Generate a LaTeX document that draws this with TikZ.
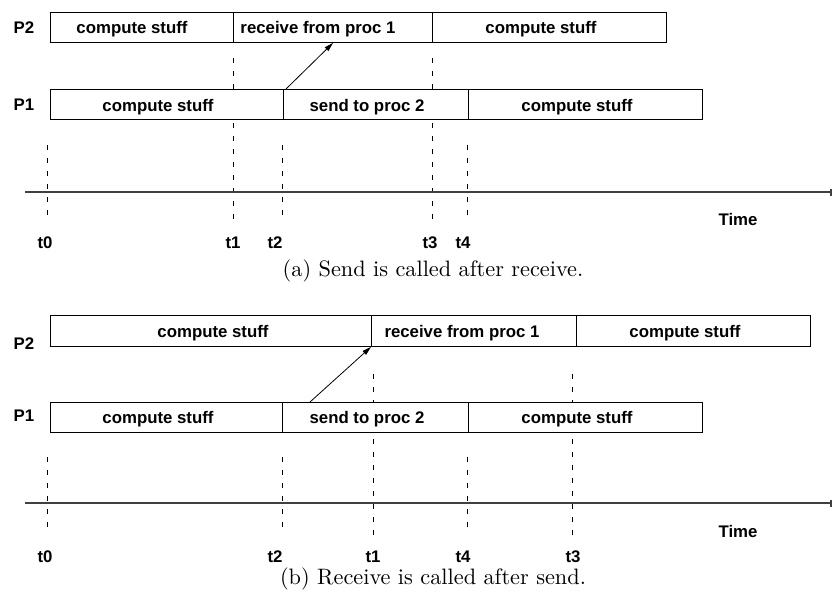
\documentclass[tikz,border=0pt]{standalone}
\usepackage{fontspec}
\newfontfamily\labfont{Liberation Sans}
\newfontfamily\capfont{lmroman10-regular.otf}
\usetikzlibrary{arrows.meta,calc}
\begin{document}
\begin{tikzpicture}[x=1pt,y=-1pt,
  bar/.style={draw=black, fill=white, line width=0.9pt, minimum height=30pt, inner sep=0pt, anchor=north west},
  lab/.style={font=\labfont\bfseries\fontsize{16.8}{19}\selectfont, inner sep=0pt, anchor=base},
  guide/.style={draw=black, line width=0.8pt, dash pattern=on 5pt off 8pt},
  axis/.style={draw=black!75, line width=1.3pt, -{Rectangle[length=2pt,width=7pt]}},
  msg/.style={draw=black, line width=0.8pt, -{Triangle[length=9pt,width=5pt]}},
  captxt/.style={font=\capfont\fontsize{22.3}{26}\selectfont, inner sep=0pt, anchor=base}]
\useasboundingbox (0,0) rectangle (833,595);

% ---------- (a) ----------
\draw[guide] (47,145) coordinate (ga0s) -- (47,218) coordinate (ga0e);
\draw[guide] (233,58) coordinate (ga1s) -- (233,222) coordinate (ga1e);
\draw[guide] (282,145) coordinate (ga2s) -- (282,218) coordinate (ga2e);
\draw[guide] (432,58) coordinate (ga3s) -- (432,222) coordinate (ga3e);
\draw[guide] (467,145) coordinate (ga4s) -- (467,218) coordinate (ga4e);

\coordinate (axAs) at (25,192);
\coordinate (axAe) at (832,192);
\draw[axis] (axAs) -- (axAe);

\node[bar, minimum width=183pt] (a2c) at (50,12) {};
\node[bar, minimum width=199pt] (a2r) at (233,12) {};
\node[bar, minimum width=234pt] (a2d) at (432,12) {};
\node[bar, minimum width=233pt] (a1c) at (50,89) {};
\node[bar, minimum width=185pt] (a1s) at (283,89) {};
\node[bar, minimum width=234pt] (a1d) at (468,89) {};

\node[lab] (a2ct) at (132,33) {compute stuff};
\node[lab] (a2rt) at (318,33) {receive from proc 1};
\node[lab] (a2dt) at (541,33) {compute stuff};
\node[lab] (a1ct) at (158,111) {compute stuff};
\node[lab] (a1st) at (367,111) {send to proc 2};
\node[lab] (a1dt) at (577,111) {compute stuff};

\node[lab] (aP2) at (24,33) {P2};
\node[lab] (aP1) at (24,110) {P1};

\node[lab] (at0) at (45,248) {t0};
\node[lab] (at1) at (233,248) {t1};
\node[lab] (at2) at (275,248) {t2};
\node[lab] (at3) at (430,248) {t3};
\node[lab] (at4) at (463,248) {t4};
\node[lab] (atime) at (738,225) {Time};

\draw[msg] ($(a1s.north west)+(3,0)$) -- ($(a2r.south west)+(100,0)$);

\node[captxt] (capa) at (433,276) {(a) Send is called after receive.};

% ---------- (b) ----------
\draw[guide] (47,457) coordinate (gb0s) -- (47,530) coordinate (gb0e);
\draw[guide] (282,457) coordinate (gb2s) -- (282,530) coordinate (gb2e);
\draw[guide] (373,374) coordinate (gb1s) -- (373,538) coordinate (gb1e);
\draw[guide] (467,457) coordinate (gb4s) -- (467,530) coordinate (gb4e);
\draw[guide] (572,374) coordinate (gb3s) -- (572,538) coordinate (gb3e);

\coordinate (axBs) at (25,503);
\coordinate (axBe) at (832,503);
\draw[axis] (axBs) -- (axBe);

\node[bar, minimum width=321pt, minimum height=31pt] (b2c) at (50,315) {};
\node[bar, minimum width=205pt, minimum height=31pt] (b2r) at (371,315) {};
\node[bar, minimum width=234pt, minimum height=31pt] (b2d) at (576,315) {};
\node[bar, minimum width=232pt] (b1c) at (50,402) {};
\node[bar, minimum width=186pt] (b1s) at (282,402) {};
\node[bar, minimum width=234pt] (b1d) at (468,402) {};

\node[lab] (b2ct) at (213,337) {compute stuff};
\node[lab] (b2rt) at (462,337) {receive from proc 1};
\node[lab] (b2dt) at (685,337) {compute stuff};
\node[lab] (b1ct) at (158,423) {compute stuff};
\node[lab] (b1st) at (367,423) {send to proc 2};
\node[lab] (b1dt) at (577,423) {compute stuff};

\node[lab] (bP2) at (24,349) {P2};
\node[lab] (bP1) at (24,421) {P1};

\node[lab] (bt0) at (45,562) {t0};
\node[lab] (bt2) at (275,562) {t2};
\node[lab] (bt1) at (373,562) {t1};
\node[lab] (bt4) at (463,562) {t4};
\node[lab] (bt3) at (573,562) {t3};
\node[lab] (btime) at (738,537) {Time};

\draw[msg] ($(b1s.north west)+(28,0)$) -- (b2r.south west);

\node[captxt] (capb) at (433,584) {(b) Receive is called after send.};
\end{tikzpicture}
\end{document}
